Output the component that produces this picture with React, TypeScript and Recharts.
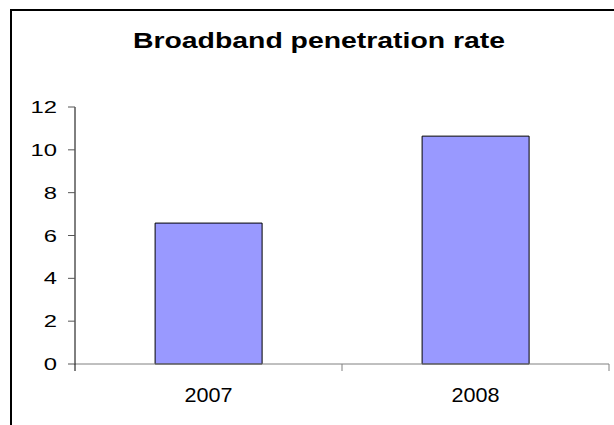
import React from "react";
import { BarChart, Bar, XAxis, YAxis } from "recharts";

const years = ["2007", "2008"];
const rates = [6.58, 10.64];
const yTicks = [0, 2, 4, 6, 8, 10, 12];

const data = years.map((year, i) => ({ year, rate: rates[i] }));

const FONT = "'Liberation Sans', Arial, sans-serif";

// y labels look horizontally stretched in the reference
const YTick = (props: any) => {
  const { x, y, payload } = props;
  return (
    <text
      transform={`translate(${x - 11}, ${y}) scale(1.4, 1)`}
      textAnchor="end"
      dy="0.36em"
      fontSize={17}
      fontFamily={FONT}
      fill="#000"
    >
      {payload.value}
    </text>
  );
};

// category labels plus tick marks on the band edges
const XTick = (props: any) => {
  const { x, y, payload, index } = props;
  const half = payload.offset ?? 0;
  return (
    <g>
      <line x1={x - half} x2={x - half} y1={y} y2={y + 7} stroke={index === 0 ? "#000" : "#808080"} />
      {index === years.length - 1 && (
        <line x1={x + half} x2={x + half} y1={y} y2={y + 7} stroke="#808080" />
      )}
      <text
        transform={`translate(${x}, ${y + 37.7}) scale(1.08, 1)`}
        textAnchor="middle"
        fontSize={20}
        fontFamily={FONT}
        fill="#000"
      >
        {payload.value}
      </text>
    </g>
  );
};

export default function App() {
  return (
    <div
      style={{
        position: "absolute",
        left: 0,
        top: 0,
        width: 614,
        height: 425,
        overflow: "hidden",
        background: "#fff",
      }}
    >
      {/* frame, runs off the right and bottom edges */}
      <div
        style={{
          position: "absolute",
          left: 10,
          top: 9,
          width: 640,
          height: 440,
          border: "2px solid #000",
        }}
      />
      <div
        style={{
          position: "absolute",
          left: 319,
          top: 29.5,
          transform: "translateX(-50%) scaleX(1.29)",
          fontFamily: FONT,
          fontWeight: "bold",
          fontSize: 22,
          lineHeight: 1,
          whiteSpace: "nowrap",
          color: "#000",
        }}
      >
        Broadband penetration rate
      </div>
      <div style={{ position: "absolute", left: 0, top: 0 }}>
        <BarChart
          width={614}
          height={425}
          data={data}
          margin={{ top: 107, right: 5, bottom: 0, left: 0 }}
          barCategoryGap="30%"
        >
          <XAxis
            dataKey="year"
            height={61}
            axisLine={{ stroke: "#808080" }}
            tickLine={false}
            tickSize={0}
            tickMargin={0}
            tick={<XTick />}
            interval={0}
          />
          <YAxis
            width={75}
            domain={[0, 12]}
            ticks={yTicks}
            interval={0}
            axisLine={{ stroke: "#000" }}
            tickLine={{ stroke: "#555" }}
            tickSize={7}
            tickMargin={0}
            tick={<YTick />}
          />
          <Bar dataKey="rate" fill="#9999FF" stroke="#000" strokeWidth={1} isAnimationActive={false} />
        </BarChart>
      </div>
    </div>
  );
}
